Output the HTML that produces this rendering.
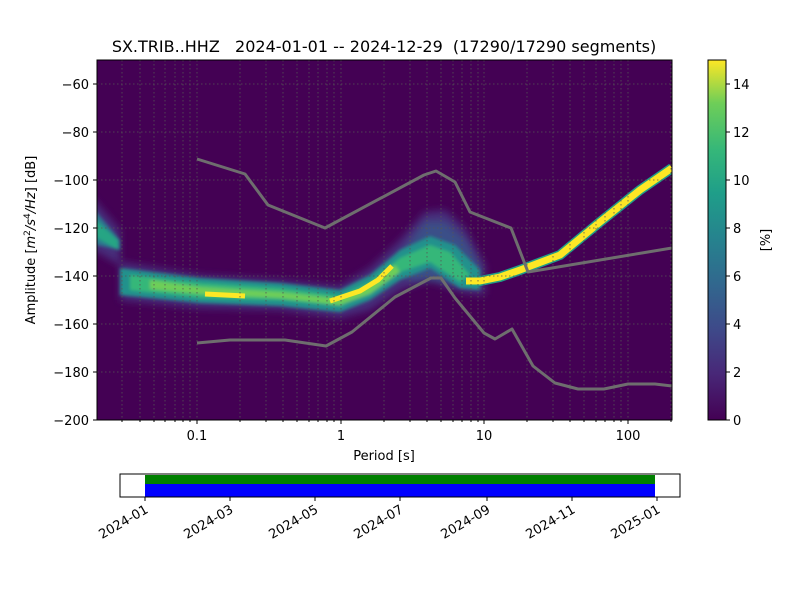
<!DOCTYPE html>
<html><head><meta charset="utf-8"><style>
body{margin:0;background:#fff;}
svg{display:block;font-family:"DejaVu Sans","Liberation Sans",sans-serif;}
</style></head><body>
<svg width="800" height="600" viewBox="0 0 800 600" xmlns="http://www.w3.org/2000/svg">
<defs>
<linearGradient id="vir" x1="0" y1="1" x2="0" y2="0">
<stop offset="0" stop-color="#440154"/><stop offset="0.13" stop-color="#482878"/>
<stop offset="0.25" stop-color="#3e4989"/><stop offset="0.38" stop-color="#31688e"/>
<stop offset="0.5" stop-color="#26828e"/><stop offset="0.63" stop-color="#1f9e89"/>
<stop offset="0.75" stop-color="#35b779"/><stop offset="0.88" stop-color="#6ece58"/>
<stop offset="1" stop-color="#fde725"/></linearGradient>
<clipPath id="pc"><rect x="97" y="60" width="575" height="360"/></clipPath>
<filter id="bl" filterUnits="userSpaceOnUse" x="0" y="0" width="800" height="600"><feGaussianBlur stdDeviation="4"/></filter>
<filter id="bs" filterUnits="userSpaceOnUse" x="0" y="0" width="800" height="600"><feGaussianBlur stdDeviation="1.5"/></filter>
</defs>
<text x="384" y="52" font-size="16" text-anchor="middle" xml:space="preserve" style="white-space:pre">SX.TRIB..HHZ   2024-01-01 -- 2024-12-29  (17290/17290 segments)</text>
<rect x="97" y="60" width="575" height="360" fill="#440154"/>
<g clip-path="url(#pc)">
<g filter="url(#bl)">
<polygon points="90,195 120,230 120,262 200,275 280,280 340,286 370,268 400,240 425,212 445,210 465,228 485,265 485,295 460,292 430,280 400,290 370,310 340,318 280,310 200,308 120,300 120,265 97,252 90,250" fill="#472d7b"/>
<polygon points="400,255 425,222 445,222 465,240 482,270 470,288 440,282 410,280" fill="#38598c" opacity="0.8"/>
</g>
<g filter="url(#bs)">
<polygon points="90,205 120,240 120,250 97,245 90,240" fill="#2a788e"/>
<polygon points="90,215 118,240 118,250 97,238" fill="#25a584"/>
<polygon points="120,268 200,278 280,283 340,290 370,275 400,250 430,236 455,245 480,270 480,290 460,288 430,268 400,280 370,300 340,312 280,306 200,303 120,295" fill="#21918c"/>
<polygon points="130,275 200,283 280,288 340,296 370,282 400,258 430,245 450,252 470,275 460,282 430,262 400,272 370,292 340,306 280,300 200,298 130,290" fill="#35b779"/>
<polygon points="150,280 200,287 280,292 340,299 370,286 395,265 400,272 370,294 340,305 280,298 200,294 150,289" fill="#6ece58"/>
</g>
<g fill="none" stroke-linejoin="round">
<path d="M205,294 L245,296 M330,301 L360,291 L378,280 L392,266" stroke="#fde725" stroke-width="5"/>
<path d="M466,281 L480,281 L500,277 L520,270 L560,255 L600,222 L640,190 L672,168" stroke="#1f9e89" stroke-width="10"/>
<path d="M466,281 L480,281 L500,277 L520,270 L560,255 L600,222 L640,190 L672,168" stroke="#fde725" stroke-width="7"/>
</g>
<g stroke="#555" stroke-width="0.8" stroke-dasharray="1.5,2.5">
<path d="M97,84H672M97,132H672M97,180H672M97,228H672M97,276H672M97,324H672M97,372H672"/>
<path d="M122,60V420M140,60V420M154,60V420M165,60V420M175,60V420M183,60V420M190,60V420M197,60V420
M240,60V420M266,60V420M283,60V420M297,60V420M309,60V420M318,60V420M327,60V420M334,60V420M341,60V420
M384,60V420M410,60V420M427,60V420M441,60V420M453,60V420M462,60V420M471,60V420M478,60V420M484,60V420
M527,60V420M553,60V420M570,60V420M584,60V420M596,60V420M605,60V420M614,60V420M621,60V420M628,60V420M671,60V420"/>
</g>
<g fill="none" stroke="#6e6e6e" stroke-width="3" stroke-linejoin="round">
<path d="M197,159 L245,174 L268,205 L325,228 L424,175 L436,171 L455,182 L470,212 L511,228 L528,272 L672,248"/>
<path d="M197,343 L230,340 L285,340 L326,346 L352,332 L395,297 L431,278 L441,278 L455,298 L484,333 L495,339 L512,329 L533,366 L555,383 L578,389 L604,389 L628,384 L655,384 L672,386"/>
</g>
</g>
<rect x="97" y="60" width="575" height="360" fill="none" stroke="#000" stroke-width="1"/>
<g font-size="13" text-anchor="end">
<g stroke="#000"><path d="M93,84H97M93,132H97M93,180H97M93,228H97M93,276H97M93,324H97M93,372H97M93,420H97"/></g>
<text x="89" y="89">−60</text><text x="89" y="137">−80</text><text x="89" y="185">−100</text><text x="89" y="233">−120</text>
<text x="89" y="281">−140</text><text x="89" y="329">−160</text><text x="89" y="377">−180</text><text x="89" y="425">−200</text>
</g>
<g stroke="#000"><path d="M197,420V424M341,420V424M484,420V424M628,420V424"/>
<path d="M122,420V422M140,420V422M154,420V422M165,420V422M175,420V422M183,420V422M190,420V422M240,420V422M266,420V422M283,420V422M297,420V422M309,420V422M318,420V422M327,420V422M334,420V422M384,420V422M410,420V422M427,420V422M441,420V422M453,420V422M462,420V422M471,420V422M478,420V422M527,420V422M553,420V422M570,420V422M584,420V422M596,420V422M605,420V422M614,420V422M621,420V422M671,420V422"/></g>
<g font-size="13" text-anchor="middle">
<text x="197" y="440">0.1</text><text x="341" y="440">1</text><text x="484" y="440">10</text><text x="628" y="440">100</text>
<text x="384" y="460">Period [s]</text>
</g>
<text transform="translate(35,240) rotate(-90)" font-size="13" text-anchor="middle">Amplitude [<tspan font-style="italic">m</tspan><tspan dy="-5" font-size="9">2</tspan><tspan dy="5" font-style="italic">/s</tspan><tspan dy="-5" font-size="9">4</tspan><tspan dy="5" font-style="italic">/Hz</tspan>] [dB]</text>
<rect x="708" y="60" width="18" height="360" fill="url(#vir)" stroke="#000" stroke-width="1"/>
<g stroke="#000"><path d="M726,420H730M726,372H730M726,324H730M726,276H730M726,228H730M726,180H730M726,132H730M726,84H730"/></g>
<g font-size="13">
<text x="733" y="425">0</text><text x="733" y="377">2</text><text x="733" y="329">4</text><text x="733" y="281">6</text>
<text x="733" y="233">8</text><text x="733" y="185">10</text><text x="733" y="137">12</text><text x="733" y="89">14</text>
</g>
<text transform="translate(770,240) rotate(-90)" font-size="13" text-anchor="middle">[%]</text>
<rect x="145" y="475" width="510" height="9" fill="#008000"/>
<rect x="145" y="484" width="510" height="13" fill="#0000ff"/>
<rect x="120" y="474" width="560" height="23" fill="none" stroke="#000" stroke-width="1"/>
<g stroke="#000"><path d="M145,497V501M230,497V501M315,497V501M400,497V501M487,497V501M572,497V501M657,497V501"/></g>
<g font-size="13" text-anchor="end">
<text transform="translate(149,512) rotate(-30)">2024-01</text>
<text transform="translate(234,512) rotate(-30)">2024-03</text>
<text transform="translate(319,512) rotate(-30)">2024-05</text>
<text transform="translate(404,512) rotate(-30)">2024-07</text>
<text transform="translate(491,512) rotate(-30)">2024-09</text>
<text transform="translate(576,512) rotate(-30)">2024-11</text>
<text transform="translate(661,512) rotate(-30)">2025-01</text>
</g>
</svg>
</body></html>
